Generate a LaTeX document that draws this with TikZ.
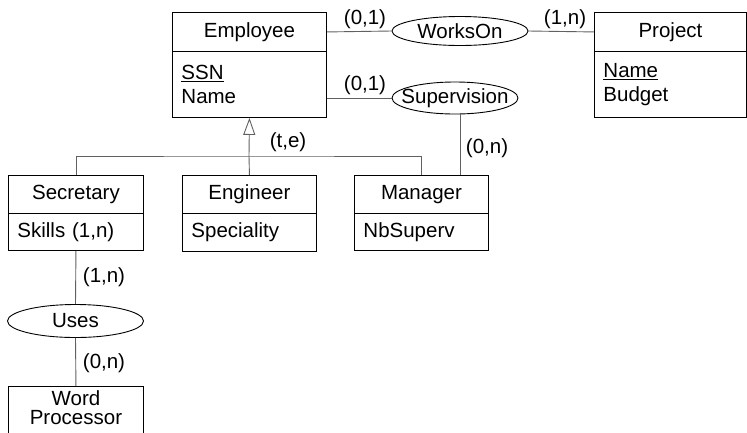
\documentclass[tikz,border=0pt]{standalone}
\usepackage{fontspec}
\setmainfont{Liberation Sans}
\usetikzlibrary{arrows.meta,shapes.geometric}
\begin{document}
\begin{tikzpicture}[x=1pt,y=-1pt,
  font=\fontsize{20.5}{24}\selectfont,
  box/.style={draw=black, line width=0.9pt, inner sep=0pt, anchor=north west},
  hdr/.style={box, minimum height=39pt},
  attr/.style={box, inner xsep=9pt, align=left},
  rel/.style={draw=black, line width=0.9pt, ellipse, inner sep=0pt},
  conn/.style={draw=black!62, line width=0.9pt},
  card/.style={inner sep=0pt}
]
\clip (0,0) rectangle (747,432);
% Employee
\node[hdr, minimum width=154pt] (emp) at (172,12) {Employee};
\node[attr, text width=136pt, minimum height=66pt] (empa) at (172,51) {\underline{SSN}\\Name};
% Project
\node[hdr, minimum width=152pt] (proj) at (594,12) {Project};
\node[attr, text width=134pt, minimum height=66pt] (proja) at (594,51) {\underline{Name}\\Budget};
% Secretary
\node[hdr, minimum width=135pt, minimum height=38pt] (sec) at (8,175) {Secretary};
\node[attr, text width=117pt, minimum height=37pt] (seca) at (8,213) {Skills (1,n)};
% Engineer
\node[hdr, minimum width=134pt, minimum height=38pt] (eng) at (182,175) {Engineer};
\node[attr, text width=116pt, minimum height=38pt] (enga) at (182,213) {Speciality};
% Manager
\node[hdr, minimum width=134pt, minimum height=38pt] (mgr) at (354,175) {Manager};
\node[attr, text width=116pt, minimum height=37pt] (mgra) at (354,213) {NbSuperv};
% Word Processor
\node[box, minimum width=135pt, inner ysep=4pt, align=center, text depth=16pt,
  font=\fontsize{20.5}{19.5}\selectfont] (wp) at (8,386) {Word\\Processor};
% Relationships
\node[rel, minimum width=136pt, minimum height=29pt, label=center:WorksOn] (works) at (460,31) {};
\node[rel, minimum width=126pt, minimum height=32pt, label=center:Supervision] (sup) at (455,98) {};
\node[rel, minimum width=136pt, minimum height=33pt, label=center:Uses] (uses) at (75.5,321) {};
% Connectors
\draw[conn] (emp.east) -- (works.west);
\draw[conn] (works.east) -- (proj.west);
\draw[conn] (sup.west -| empa.east) -- (sup.west);
\draw[conn] ([xshift=5pt]sup.south) -- ([xshift=5pt]sup.south |- mgr.north);
\draw[conn] (seca.south) -- (uses.north);
\draw[conn] (uses.south) -- (wp.north);
% ISA hierarchy
\coordinate (isa) at (249,156);
\draw[conn] (sec.north) |- (isa) -| (mgr.north);
\draw[conn] (eng.north) -- (isa);
\draw[conn, -{Triangle[open, width=12pt, length=17pt, line width=0.9pt]}] (isa) -- (emp.south |- empa.south);
% Cardinalities
\node[card] (c1) at (365,19) {(0,1)};
\node[card] (c2) at (565,19) {(1,n)};
\node[card] (c3) at (365,85) {(0,1)};
\node[card] (c4) at (288,142) {(t,e)};
\node[card] (c5) at (487,148) {(0,n)};
\node[card] (c6) at (104,277) {(1,n)};
\node[card] (c7) at (104,363) {(0,n)};
\end{tikzpicture}
\end{document}
